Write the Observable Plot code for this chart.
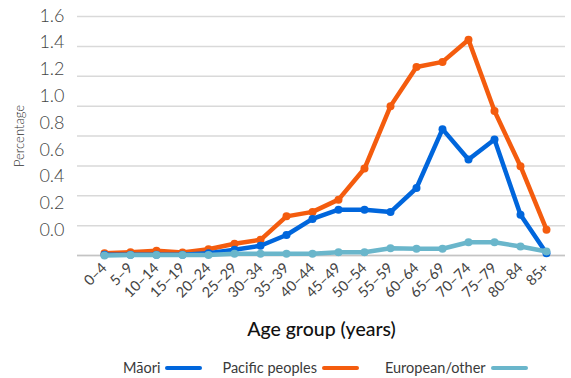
<!DOCTYPE html>
<html>
<head>
<meta charset="utf-8">
<script src="https://cdn.jsdelivr.net/npm/d3@7"></script>
<script src="https://cdn.jsdelivr.net/npm/@observablehq/plot@0.6"></script>
<style>
  html, body { margin: 0; padding: 0; background: #fff; }
  body { width: 571px; height: 378px; overflow: hidden; font-family: Lato, "Open Sans", sans-serif; }
  #legend { display: flex; align-items: center; height: 33px; padding-top: 6px; padding-left: 123px; font-size: 14.5px; color: #3a3a3a; }
  #legend .item { display: flex; align-items: center; }
  #legend .swatch { display: inline-block; width: 37px; height: 4px; border-radius: 2px; margin-left: 5px; }
</style>
</head>
<body>
<div id="chart"></div>
<div id="legend"></div>
<script>
const ages = ["0–4","5–9","10–14","15–19","20–24","25–29","30–34","35–39","40–44","45–49","50–54","55–59","60–64","65–69","70–74","75–79","80–84","85+"];
const maori    = [0.005,0.005,0.005,0.005,0.015,0.038,0.065,0.137,0.245,0.307,0.307,0.291,0.452,0.846,0.643,0.777,0.273,0.015];
const pacific  = [0.015,0.022,0.031,0.020,0.042,0.079,0.105,0.262,0.292,0.374,0.582,1.000,1.262,1.296,1.444,0.967,0.598,0.173];
const european = [0.000,0.004,0.004,0.004,0.004,0.012,0.012,0.012,0.012,0.022,0.022,0.049,0.045,0.045,0.089,0.089,0.060,0.027];
const seriesNames = ["Māori","Pacific peoples","European/other"];
const seriesColors = ["#0066dc","#f45c0e","#6ab6cb"];
const gridValues = [0,0.2,0.4,0.6,0.8,1.0,1.2,1.4,1.6];
const yTickLabels = [0,0.2,0.4,0.6,0.8,1.0,1.2,1.4,1.6];

const seriesValues = [maori, pacific, european];
const rows = [];
seriesNames.forEach((s, k) => ages.forEach((a, i) => rows.push({series: s, age: a, value: seriesValues[k][i]})));
const drawOrder = ["Pacific peoples","Māori","European/other"];
const colorOf = s => seriesColors[seriesNames.indexOf(s)];

// the reference's y labels sit offset from the gridlines
const labelPos = L => 0.17 + 0.896 * L;

const marks = [
  Plot.gridY(gridValues, {stroke: "#d9d9d9", strokeOpacity: 1, strokeWidth: 1.5}),
  Plot.ruleY([0], {stroke: "#c4c4c4", strokeWidth: 1.5}),
  Plot.axisY(yTickLabels.map(labelPos), {
    tickSize: 0, tickPadding: 13, fontSize: 18, fill: "#444",
    tickFormat: d => ((d - 0.17) / 0.896).toFixed(1),
    label: "Percentage", labelAnchor: "center", labelOffset: 63
  }),
  Plot.axisX({tickSize: 0, tickPadding: 10, tickRotate: -45, fontSize: 14.5, fill: "#444",
    label: "Age group (years)", labelAnchor: "center", labelOffset: 80})
];
for (const s of drawOrder) {
  const d = rows.filter(r => r.series === s);
  marks.push(Plot.line(d, {x: "age", y: "value", stroke: colorOf(s), strokeWidth: 4.5, strokeLinejoin: "round", strokeLinecap: "round"}));
  marks.push(Plot.dot(d, {x: "age", y: "value", fill: colorOf(s), r: 4}));
}

const chart = Plot.plot({
  width: 571,
  height: 345,
  marginLeft: 77,
  marginRight: 6,
  marginTop: 16,
  marginBottom: 90,
  style: {fontFamily: "Lato, 'Open Sans', sans-serif", background: "#fff", overflow: "visible"},
  x: {type: "point", domain: ages, range: [88, 561]},
  y: {domain: [0, 1.6]},
  marks
});
chart.querySelectorAll("[aria-label='y-axis label'] text, [aria-label='x-axis label'] text").forEach(n => {
  n.textContent = n.textContent.replace(/\s*[→↑←↓]\s*/g, "");
});
chart.querySelectorAll("[aria-label='y-axis label']").forEach(n => { n.setAttribute("font-size", 13); n.setAttribute("fill", "#333"); n.setAttribute("font-weight", 300); });
chart.querySelectorAll("[aria-label='x-axis label']").forEach(n => { n.setAttribute("font-size", 19.5); n.setAttribute("fill", "#111"); n.setAttribute("font-weight", 500); });
chart.querySelectorAll("[aria-label='y-axis tick label']").forEach(n => n.setAttribute("font-weight", 300));
document.getElementById("chart").append(chart);

const legend = document.getElementById("legend");
const gaps = [0, 20, 26];
seriesNames.forEach((s, i) => {
  const item = document.createElement("span");
  item.className = "item";
  item.style.marginLeft = gaps[i] + "px";
  item.innerHTML = `<span>${s}</span><span class="swatch" style="background:${seriesColors[i]}"></span>`;
  legend.append(item);
});
</script>
</body>
</html>
